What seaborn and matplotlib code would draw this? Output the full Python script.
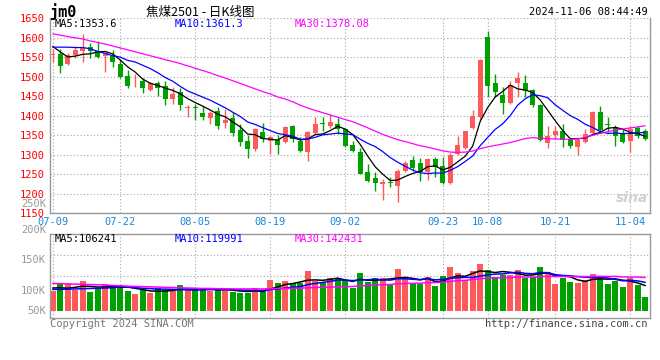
import matplotlib
matplotlib.use("Agg")
import matplotlib.pyplot as plt
import seaborn as sns
import pandas as pd
import numpy as np

# daily candles, 2024-07-09 .. 2024-11-06
opens = [1556, 1558, 1534, 1557, 1566, 1576, 1566, 1553, 1553, 1532,
         1503, 1483, 1490, 1465, 1485, 1477, 1443, 1462, 1420, 1423,
         1407, 1394, 1413, 1382, 1394, 1363, 1335, 1316, 1358, 1335,
         1338, 1333, 1373, 1335, 1308, 1356, 1381, 1373, 1379, 1367,
         1325, 1308, 1257, 1240, 1226, 1230, 1221, 1259, 1286, 1278,
         1255, 1289, 1272, 1227, 1303, 1317, 1369, 1397, 1602, 1485,
         1454, 1433, 1483, 1485, 1467, 1427, 1331, 1350, 1361, 1340,
         1320, 1333, 1356, 1410, 1380, 1371, 1356, 1335, 1369, 1362]
highs = [1572, 1572, 1560, 1578, 1610, 1587, 1592, 1564, 1570, 1543,
         1517, 1507, 1496, 1487, 1490, 1488, 1475, 1471, 1428, 1431,
         1426, 1413, 1422, 1417, 1409, 1378, 1352, 1368, 1382, 1348,
         1350, 1374, 1376, 1345, 1362, 1396, 1396, 1405, 1394, 1370,
         1335, 1318, 1276, 1257, 1238, 1242, 1264, 1283, 1297, 1293,
         1293, 1295, 1295, 1304, 1348, 1362, 1414, 1545, 1617, 1508,
         1475, 1490, 1513, 1505, 1470, 1430, 1375, 1375, 1379, 1343,
         1344, 1367, 1412, 1426, 1396, 1376, 1367, 1373, 1373, 1367]
lows = [1538, 1509, 1530, 1547, 1538, 1549, 1547, 1513, 1526, 1498,
        1472, 1475, 1458, 1463, 1452, 1428, 1430, 1416, 1397, 1390,
        1389, 1378, 1367, 1369, 1348, 1323, 1293, 1311, 1334, 1302,
        1303, 1329, 1332, 1306, 1283, 1352, 1362, 1369, 1354, 1320,
        1306, 1250, 1229, 1208, 1185, 1217, 1179, 1256, 1259, 1234,
        1235, 1244, 1225, 1224, 1300, 1314, 1366, 1390, 1447, 1447,
        1405, 1430, 1449, 1449, 1423, 1335, 1318, 1341, 1320, 1318,
        1300, 1330, 1354, 1358, 1359, 1323, 1330, 1306, 1343, 1338]
closes = [1559, 1527, 1555, 1570, 1577, 1566, 1551, 1561, 1538, 1500,
          1477, 1485, 1471, 1485, 1471, 1443, 1456, 1428, 1422, 1421,
          1397, 1407, 1373, 1389, 1356, 1334, 1314, 1365, 1340, 1346,
          1324, 1371, 1340, 1310, 1358, 1380, 1379, 1383, 1365, 1323,
          1310, 1252, 1234, 1227, 1229, 1228, 1259, 1279, 1266, 1255,
          1289, 1269, 1227, 1300, 1325, 1361, 1399, 1544, 1477, 1460,
          1433, 1479, 1496, 1463, 1427, 1337, 1348, 1362, 1337, 1323,
          1337, 1354, 1410, 1363, 1376, 1348, 1333, 1367, 1348, 1341]
# volume, thousand lots
volumes = [87, 116, 116, 91, 130, 83, 101, 117, 109, 106,
           87, 74, 90, 80, 99, 90, 88, 113, 90, 96,
           96, 87, 90, 96, 84, 77, 77, 101, 87, 135,
           123, 130, 123, 120, 174, 130, 120, 145, 145, 135,
           99, 164, 127, 145, 145, 117, 183, 142, 122, 116,
           148, 109, 152, 191, 167, 135, 174, 204, 178, 146,
           157, 157, 178, 142, 149, 191, 168, 117, 142, 127,
           123, 135, 161, 154, 119, 130, 106, 142, 113, 62]

# moving-average values before the window is full
ma5_head = [1578, 1564, 1551, 1553]
ma10_head = [1576, 1576, 1576, 1575, 1575, 1572, 1565, 1560, 1554]
ma30_head = [1610, 1607, 1603, 1600, 1597, 1592, 1588, 1584, 1579, 1574,
             1569, 1564, 1559, 1554, 1549, 1544, 1539, 1534, 1528, 1522,
             1516, 1510, 1503, 1497, 1490, 1483, 1476, 1469, 1462]
vma5_head = [100, 101, 99, 103]
vma10_head = [94, 94, 95, 96, 97, 98, 99, 100, 101]
vma30_head = [120, 119, 118, 117, 116, 115, 114, 113, 111, 110,
              108, 107, 106, 105, 104, 103, 102, 101, 100, 99,
              98, 98, 97, 97, 96, 96, 96, 96, 96]

date_pos = [0, 9, 19, 29, 39, 52, 58, 67, 77]
date_labels = ['07-09', '07-22', '08-05', '08-19', '09-02', '09-23', '10-08', '10-21', '11-04']
price_ticks = [1150, 1200, 1250, 1300, 1350, 1400, 1450, 1500, 1550, 1600, 1650]


def moving_average(values, n, head):
    s = pd.Series(values, dtype=float).rolling(n).mean()
    s.iloc[:len(head)] = head
    return s


df = pd.DataFrame({'open': opens, 'high': highs, 'low': lows, 'close': closes, 'vol': volumes})
df['idx'] = np.arange(len(df))
df['ma5'] = moving_average(closes, 5, ma5_head)
df['ma10'] = moving_average(closes, 10, ma10_head)
df['ma30'] = moving_average(closes, 30, ma30_head)
df['vma5'] = moving_average(volumes, 5, vma5_head)
df['vma10'] = moving_average(volumes, 10, vma10_head)
df['vma30'] = moving_average(volumes, 30, vma30_head)

RED = '#ff5a5a'
GREEN = '#00a000'
GRID = '#a8a8a8'
FRAME = '#999999'
colors = [RED if c >= o else GREEN for o, c in zip(opens, closes)]

sns.set_style("white")
plt.rcParams['font.family'] = ['DejaVu Sans Mono', 'Noto Sans CJK SC']

W, H = 660, 360
fig = plt.figure(figsize=(6.6, 3.6), dpi=100)


def px(x, y):
    return x / W, 1 - y / H


xlim = (-0.36, 79.64)

# price panel
ax = fig.add_axes([50 / W, 1 - 213.3 / H, 600 / W, 195 / H])
ax.vlines(df['idx'], df['low'], df['high'], color=colors, linewidth=1.0)
body = np.maximum(np.abs(df['close'] - df['open']), 1.6)
bottom = np.minimum(df['open'], df['close'])
ax.bar(df['idx'], body, bottom=bottom, width=0.72, color=colors, linewidth=0)
sns.lineplot(x=df['idx'], y=df['ma5'], ax=ax, color='black', linewidth=0.9)
sns.lineplot(x=df['idx'], y=df['ma10'], ax=ax, color='#0000ff', linewidth=0.9)
sns.lineplot(x=df['idx'], y=df['ma30'], ax=ax, color='#ff00ff', linewidth=0.9)
ax.set_xlim(*xlim)
ax.set_ylim(1150, 1650)
ax.set_yticks(price_ticks)
ax.set_xticks(date_pos)
ax.set_xticklabels(date_labels)
ax.set_xlabel('')
ax.set_ylabel('')
ax.grid(True, color=GRID, linestyle=(0, (1, 2)), linewidth=0.8)
ax.tick_params(axis='y', length=0, pad=4, labelcolor='#ff0000', labelsize=7.5)
ax.tick_params(axis='x', length=0, pad=2.5, labelcolor='#1a86d8', labelsize=7.5)
for side in ['left', 'bottom', 'right']:
    ax.spines[side].set_color(FRAME)
    ax.spines[side].set_linewidth(1)
ax.spines['top'].set_visible(False)

ax.text(*px(55, 24), 'MA5:1353.6', transform=fig.transFigure, color='black', fontsize=7.5, va='center')
ax.text(*px(175, 24), 'MA10:1361.3', transform=fig.transFigure, color='#0000ff', fontsize=7.5, va='center')
ax.text(*px(295, 24), 'MA30:1378.08', transform=fig.transFigure, color='#ff00ff', fontsize=7.5, va='center')
fig.text(*px(632, 198), 'sina', color='#d0d0d0', fontsize=10, fontweight='bold',
         style='italic', ha='center', va='center', family=['DejaVu Sans'])

# volume panel
av = fig.add_axes([50 / W, 1 - 318.3 / H, 600 / W, 84 / H])
av.bar(df['idx'], df['vol'], width=0.8, color=colors, linewidth=0)
sns.lineplot(x=df['idx'], y=df['vma5'], ax=av, color='black', linewidth=1.1)
sns.lineplot(x=df['idx'], y=df['vma10'], ax=av, color='#0000ff', linewidth=1.1)
sns.lineplot(x=df['idx'], y=df['vma30'], ax=av, color='#ff00ff', linewidth=1.1)
av.set_xlim(*xlim)
av.set_ylim(-32, 334)
av.set_yticks([59.5, 151, 242.5])
av.set_yticklabels([])
av.set_xticks(date_pos)
av.set_xticklabels([])
av.set_xlabel('')
av.set_ylabel('')
av.grid(True, color=GRID, linestyle=(0, (1, 2)), linewidth=0.8)
av.tick_params(length=0)
for side in av.spines:
    av.spines[side].set_color(FRAME)
    av.spines[side].set_linewidth(1)

av.text(*px(55, 239), 'MA5:106241', transform=fig.transFigure, color='black', fontsize=7.5, va='center')
av.text(*px(175, 239), 'MA10:119991', transform=fig.transFigure, color='#0000ff', fontsize=7.5, va='center')
av.text(*px(295, 239), 'MA30:142431', transform=fig.transFigure, color='#ff00ff', fontsize=7.5, va='center')

for lab, y in [('250K', 204), ('200K', 230), ('150K', 260), ('100K', 291), ('50K', 311)]:
    fig.text(*px(46, y), lab, color='#999999', fontsize=7.5, ha='right', va='center')

# header and footer
fig.text(*px(50, 12), 'jm0', fontsize=11, fontweight='bold', color='black', va='center')
fig.text(*px(200, 12), '焦煤2501 - 日K线图', fontsize=9, color='black', ha='center', va='center',
         family=['Noto Sans CJK SC', 'DejaVu Sans'])
fig.text(*px(648, 12), '2024-11-06 08:44:49', fontsize=7.5, color='black', ha='right', va='center')
fig.text(*px(50, 324), 'Copyright 2024 SINA.COM', fontsize=7.5, color='#777777', va='center')
fig.text(*px(648, 324), 'http://finance.sina.com.cn', fontsize=7.5, color='#444444', ha='right', va='center')

fig.savefig('out.png', dpi=100)
